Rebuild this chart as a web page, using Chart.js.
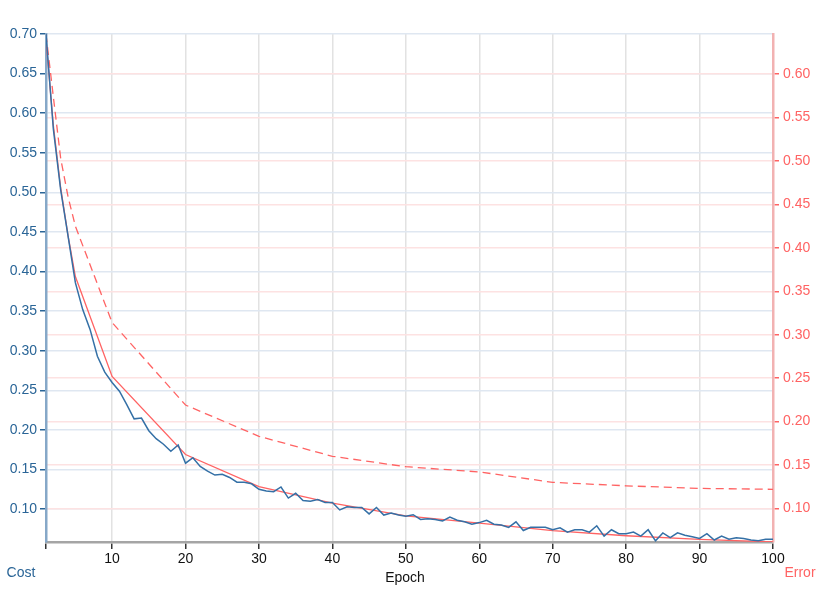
<!DOCTYPE html>
<html><head><meta charset="utf-8">
<script src="https://cdn.jsdelivr.net/npm/chart.js@4"></script>
<style>html,body{margin:0;padding:0;background:#fff;overflow:hidden}#wrap{width:831px;height:595px;position:relative}canvas{display:block}</style>
</head><body><div id="wrap"><canvas id="c" width="831" height="595" style="width:831px;height:595px"></canvas></div>
<script>
// ---- data ----
const epochs = [1,2,3,4,5,6,7,8,9,10,11,12,13,14,15,16,17,18,19,20,21,22,23,24,25,26,27,28,29,30,31,32,33,34,35,36,37,38,39,40,41,42,43,44,45,46,47,48,49,50,51,52,53,54,55,56,57,58,59,60,61,62,63,64,65,66,67,68,69,70,71,72,73,74,75,76,77,78,79,80,81,82,83,84,85,86,87,88,89,90,91,92,93,94,95,96,97,98,99,100];
const cost = [0.700,0.580,0.503,0.445,0.386,0.352,0.327,0.293,0.273,0.260,
  0.249,0.232,0.214,0.215,0.199,0.189,0.182,0.173,0.181,0.158,
  0.165,0.154,0.148,0.143,0.144,0.140,0.134,0.134,0.132,0.125,
  0.123,0.122,0.128,0.114,0.120,0.111,0.110,0.112,0.1085,0.1085,
  0.099,0.103,0.102,0.102,0.094,0.102,0.0925,0.095,0.0925,0.091,
  0.093,0.087,0.088,0.087,0.085,0.090,0.086,0.084,0.081,0.083,
  0.086,0.081,0.080,0.077,0.084,0.073,0.077,0.077,0.077,0.074,
  0.0765,0.071,0.074,0.074,0.071,0.079,0.066,0.074,0.069,0.069,
  0.071,0.066,0.074,0.060,0.070,0.064,0.070,0.067,0.065,0.063,
  0.069,0.061,0.066,0.062,0.064,0.063,0.061,0.060,0.062,0.062];
const errorEpochs = [1,2,3,4,5,10,20,30,40,50,60,70,80,90,100];
const trainError = [0.640,0.541,0.469,0.414,0.367,0.252,0.162,0.125,0.106,0.0915,0.083,0.0743,0.0685,0.0644,0.0613];
const testError  = [0.646,0.574,0.503,0.459,0.425,0.314,0.219,0.183,0.160,0.148,0.142,0.130,0.126,0.123,0.122];
const xTicks = [1,10,20,30,40,50,60,70,80,90,100];
const costTicks = [0.10,0.15,0.20,0.25,0.30,0.35,0.40,0.45,0.50,0.55,0.60,0.65,0.70];
const errorTicks = [0.10,0.15,0.20,0.25,0.30,0.35,0.40,0.45,0.50,0.55,0.60];

const BLUE_TXT = '#2a6597', BLUE_LINE = '#3470a6', RED = '#ff6363';
const FONT = {family: '"Liberation Sans", Arial, sans-serif', size: 14};

const pts = (xs, ys) => xs.map((x, i) => ({x, y: ys[i]}));

const labelsPlugin = {
  id: 'axisLabels',
  afterDraw(chart) {
    const ctx = chart.ctx;
    ctx.save();
    ctx.font = '14px "Liberation Sans", Arial, sans-serif';
    ctx.textAlign = 'center';
    ctx.textBaseline = 'middle';
    ctx.fillStyle = BLUE_TXT; ctx.fillText('Cost', 21, 573);
    ctx.fillStyle = '#111'; ctx.fillText('Epoch', 405, 578);
    ctx.fillStyle = RED; ctx.fillText('Error', 800, 573);
    ctx.restore();
  }
};

new Chart(document.getElementById('c'), {
  type: 'line',
  data: {
    datasets: [
      {label: 'Cost', data: pts(epochs, cost), yAxisID: 'y', borderColor: BLUE_LINE, borderWidth: 1.5, pointRadius: 0, tension: 0},
      {label: 'Train error', data: pts(errorEpochs, trainError), yAxisID: 'y2', borderColor: RED, borderWidth: 1.3, pointRadius: 0, tension: 0},
      {label: 'Test error', data: pts(errorEpochs, testError), yAxisID: 'y2', borderColor: RED, borderWidth: 1.3, borderDash: [8, 5], pointRadius: 0, tension: 0}
    ]
  },
  options: {
    responsive: false, animation: false,
    devicePixelRatio: 1,
    layout: {padding: {top: 34, left: 0, right: 0, bottom: 0}},
    plugins: {legend: {display: false}, tooltip: {enabled: false}},
    scales: {
      x: {
        type: 'linear', min: 1, max: 100,
        afterBuildTicks: s => { s.ticks = xTicks.map(v => ({value: v})); },
        afterFit: s => { s.height = 53; },
        ticks: {color: '#111', font: FONT, padding: 2, maxRotation: 0, autoSkip: false,
          callback: v => (v === 1 ? '' : String(v))},
        grid: {color: '#e2e2e2', lineWidth: 1.5, tickLength: 7, tickColor: '#333', tickWidth: 1.5},
        border: {color: '#a5a5a5', width: 2.5}
      },
      y: {
        type: 'linear', position: 'left', min: 0.0585, max: 0.70,
        afterBuildTicks: s => { s.ticks = costTicks.map(v => ({value: v})); },
        afterFit: s => { s.width = 46; },
        ticks: {color: BLUE_TXT, font: FONT, padding: 3, autoSkip: false, callback: v => v.toFixed(2)},
        grid: {color: '#dfe7f1', lineWidth: 1.5, tickLength: 6, tickColor: BLUE_TXT, tickWidth: 1.5},
        border: {color: '#86a8c8', width: 2.5}
      },
      y2: {
        type: 'linear', position: 'right', min: 0.0613, max: 0.6463,
        afterBuildTicks: s => { s.ticks = errorTicks.map(v => ({value: v})); },
        afterFit: s => { s.width = 58; },
        ticks: {color: RED, font: FONT, padding: 4, autoSkip: false, callback: v => v.toFixed(2)},
        grid: {color: '#fde2e2', lineWidth: 1.5, tickLength: 6, tickColor: RED, tickWidth: 1.5},
        border: {color: '#f2b2b2', width: 2.5}
      }
    }
  },
  plugins: [labelsPlugin]
});
</script>
</body></html>
